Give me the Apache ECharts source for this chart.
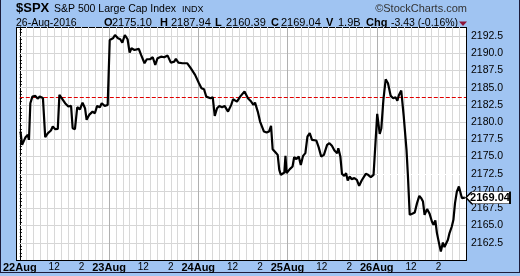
<!DOCTYPE html>
<html><head><meta charset="utf-8">
<script src="https://cdn.jsdelivr.net/npm/echarts@6/dist/echarts.min.js"></script>
<style>
html,body{margin:0;padding:0;background:#a0c4f2;}
#wrap{position:relative;width:520px;height:276px;overflow:hidden;}
#frame{position:absolute;left:0;top:-1px;width:520px;height:274px;box-sizing:border-box;border:1px solid #1c1c3c;}
#plotbg{position:absolute;left:16px;top:27px;width:451px;height:234px;box-sizing:border-box;background:#fff;border:1px solid #000;}
#c{position:absolute;left:0;top:0;width:520px;height:276px;}
</style>
</head><body><div id="wrap"><div id="frame"></div><div id="plotbg"></div><div id="c"></div></div>
<script>
// ---- data (trading minutes since 22-Aug 09:30; 390 min per session) ----
const dayLabels = ['22Aug', '23Aug', '24Aug', '25Aug', '26Aug'];
const hourLabels = { 150: '12', 270: '2' };
const hourMarks = [30, 90, 150, 210, 270, 330];          // 10:00 ... 15:00 within a session
const dayStarts = [390, 780, 1170, 1560];                // session boundaries
const yTicks = [2162.5, 2165.0, 2167.5, 2170.0, 2172.5, 2175.0, 2177.5, 2180.0, 2182.5, 2185.0, 2187.5, 2190.0, 2192.5];
const times = [
  3,10,25,35,40,46,55,68,78,87,101,111,123,136,144,155,166,173,183,198,212,224,231,241,251,263,274,285,292,303,318,328,338,350,358,371,384,
  393,407,416,429,439,448,459,471,480,488,501,520,530,545,555,569,581,592,602,617,631,646,660,675,682,693,711,732,747,766,783,
  794,805,815,833,843,852,862,872,884,895,910,924,932,939,949,963,982,997,1011,1021,1028,1040,1050,1057,1067,1079,1089,1098,1105,1118,1127,1134,1141,1148,1156,1161,1166,
  1180,1192,1199,1209,1219,1228,1238,1248,1257,1267,1277,1296,1306,1317,1329,1343,1353,1364,1375,1387,1392,1401,1408,1418,1426,1433,1442,1450,1462,1473,1483,1494,1502,1512,1522,1534,1546,
  1562,1573,1580,1589,1599,1609,1621,1632,1642,1650,1657,1667,1678,1690,1696,1704,1715,1726,1736,1746,1754,1762,1769,1780,1791,1801,1808,1816,1823,1832,1840,1849,1856,1863,1871,1878,1888,1895,1902,1910,1919,1924,1932,1945
];
const prices = [
  2178.63,2176.70,2177.82,2178.15,2177.43,2182.74,2183.70,2183.80,2183.41,2183.70,2183.51,2177.82,2178.40,2178.78,2179.36,2178.98,2179.02,2183.95,2183.47,2182.74,2182.26,2182.35,2179.12,2178.98,2182.16,2181.87,2182.83,2182.02,2180.33,2181.05,2181.53,2181.29,2182.35,2182.16,2182.74,2182.35,2182.50,
  2191.92,2192.16,2192.64,2192.16,2192.02,2191.53,2192.64,2192.02,2190.08,2190.71,2190.47,2190.62,2189.75,2188.54,2189.12,2189.12,2189.41,2188.30,2189.27,2189.50,2189.41,2189.65,2188.63,2188.78,2189.17,2188.63,2188.54,2188.54,2187.82,2186.85,2185.64,
  2184.92,2184.77,2183.70,2183.47,2183.61,2180.91,2182.02,2182.35,2182.16,2182.35,2181.53,2182.50,2183.32,2183.47,2182.98,2183.70,2184.43,2183.47,2182.98,2182.50,2182.83,2181.53,2180.08,2179.94,2178.63,2178.49,2178.63,2179.46,2176.08,2175.59,2175.25,2173.08,2172.35,2172.11,2172.69,2175.11,2172.60,
  2173.18,2173.56,2174.92,2174.63,2175.01,2173.80,2175.11,2175.50,2177.91,2178.40,2177.43,2177.33,2176.37,2175.01,2175.25,2176.70,2176.95,2176.56,2175.88,2175.50,2176.22,2175.01,2172.50,2172.21,2172.60,2171.53,2172.11,2171.73,2171.88,2171.63,2170.76,2171.53,2171.73,2172.50,2172.35,2172.02,2172.35,
  2181.20,2178.30,2179.12,2183.22,2186.22,2185.64,2183.80,2183.47,2183.61,2183.12,2183.95,2184.57,2180.80,2175.98,2172.35,2166.56,2166.70,2166.89,2168.25,2169.31,2168.98,2168.48,2166.56,2167.38,2166.70,2165.59,2165.11,2165.73,2163.90,2162.45,2161.24,2162.54,2161.88,2161.73,2162.93,2163.90,2164.86,2165.83,2168.25,2169.93,2170.66,2170.51,2168.98,2169.04
];
const refLevel = 2183.66;      // red dashed line
const prevClose = 2172.47;     // previous close (last session)
const lastPrice = 2169.04;
const quoteLetters = ['O', 'H', 'L', 'C', 'V'];
const quoteValues = ['2175.10', '2187.94', '2160.39', '2169.04', '1.9B'];
const changeText = '-3.43 (-0.16%)';

const FONT = "'Liberation Sans', Arial, sans-serif";
const pts = times.map((t, i) => [t, prices[i]]);

// split line colours: day boundary darker, hourly lines light, half-hours hidden
const splitColors = [];
for (let k = 0; k < 13; k++) splitColors.push(k === 0 ? '#b0b0b0' : (k % 2 === 1 ? '#d8d8d8' : 'rgba(255,255,255,0)'));

// grid lines also drawn as markLines through the axes' scales
const gridLines = [];
yTicks.forEach(v => gridLines.push({ yAxis: v, lineStyle: { color: '#d6d6d6', width: 1, type: 'solid', opacity: 1 } }));
for (let d = 0; d < dayLabels.length; d++) {
  hourMarks.forEach(h => gridLines.push({ xAxis: d * 390 + h, lineStyle: { color: '#d8d8d8', width: 1, type: 'solid', opacity: 1 } }));
}
dayStarts.forEach(v => gridLines.push({ xAxis: v, lineStyle: { color: '#b0b0b0', width: 1, type: 'solid', opacity: 1 } }));

const qx = [[105, 112], [161, 171], [216, 226], [272, 281], [327, 338]];
const graphics = [
  { type: 'text', x: 16, y: 8.8, style: { text: '$SPX', font: 'bold 13px ' + FONT, fill: '#000', verticalAlign: 'middle' } },
  { type: 'text', x: 54, y: 9.4, style: { text: 'S&P 500 Large Cap Index', font: '10.5px ' + FONT, fill: '#000', verticalAlign: 'middle' } },
  { type: 'text', x: 182, y: 10, style: { text: 'INDX', font: '9px ' + FONT, fill: '#000', verticalAlign: 'middle' } },
  { type: 'text', x: 467, y: 9.2, style: { text: '\u00a9StockCharts.com', font: '11px ' + FONT, fill: '#333', align: 'right', verticalAlign: 'middle' } },
  { type: 'text', x: 16, y: 23, style: { text: '26-Aug-2016', font: '10.5px ' + FONT, fill: '#000', verticalAlign: 'middle' } },
  { type: 'text', x: 366, y: 22.8, style: { text: 'Chg', font: 'bold 11px ' + FONT, fill: '#000', verticalAlign: 'middle' } },
  { type: 'text', x: 391, y: 23, style: { text: changeText, font: '10.5px ' + FONT, fill: '#000', verticalAlign: 'middle' } },
  { type: 'polygon', shape: { points: [[459, 21.5], [467, 21.5], [463, 26]] }, style: { fill: '#8c1438' } }
];
quoteLetters.forEach((l, i) => {
  graphics.push({ type: 'text', x: qx[i][0] - 1, y: 22.8, style: { text: l, font: 'bold 11px ' + FONT, fill: '#000', verticalAlign: 'middle' } });
  graphics.push({ type: 'text', x: qx[i][1], y: 23, style: { text: quoteValues[i], font: '11px ' + FONT, fill: '#000', verticalAlign: 'middle' } });
});

const chart = echarts.init(document.getElementById('c'), null, { renderer: 'canvas' });
chart.setOption({
  animation: false,
  backgroundColor: 'transparent',
  grid: { left: 16, right: 54, top: 27, bottom: 16, show: false, containLabel: false },
  xAxis: {
    type: 'value', min: 0, max: 1950, interval: 30,
    axisLine: { show: false }, axisTick: { show: false },
    axisLabel: {
      margin: 2, color: '#000', fontFamily: FONT, fontSize: 10,
      formatter: function (v) {
        const m = Math.round(v) % 390, d = Math.floor(Math.round(v) / 390);
        if (m === 0 && d < dayLabels.length) return '{d|' + dayLabels[d] + '}';
        if (hourLabels[m]) return hourLabels[m];
        return '';
      },
      rich: { d: { fontWeight: 'bold', fontSize: 11, fontFamily: FONT, color: '#000' } }
    },
    splitLine: { show: true, showMinLine: false, showMaxLine: false, lineStyle: { color: splitColors, width: 1, opacity: 1 } }
  },
  yAxis: {
    type: 'value', position: 'right', min: 2160, max: 2193.8, interval: 2.5,
    axisLine: { show: true, lineStyle: { color: '#000', width: 1 } },
    axisTick: { show: true, length: 3, lineStyle: { color: '#000' } },
    minorTick: { show: true, splitNumber: 5, length: 2, lineStyle: { color: '#000' } },
    axisLabel: { margin: 5, color: '#000', fontFamily: FONT, fontSize: 10.5, showMinLabel: false, showMaxLabel: false, formatter: v => v.toFixed(1) },
    splitLine: { show: true, showMinLine: false, showMaxLine: false, lineStyle: { color: '#d6d6d6', width: 1, opacity: 1 } }
  },
  graphic: graphics,
  series: [
    {
      type: 'line', data: pts, showSymbol: false, symbol: 'none', silent: true, z: 1,
      lineStyle: { color: 'rgba(0,0,0,0)', width: 1 },
      markLine: {
        silent: true, symbol: 'none', label: { show: false }, animation: false,
        lineStyle: { color: '#d6d6d6', width: 1, type: 'solid', opacity: 1 },
        data: gridLines
      }
    },
    {
      type: 'line', data: pts, showSymbol: false, symbol: 'none',
      lineStyle: { color: '#000', width: 2.2 }, z: 5,
      markLine: {
        silent: true, symbol: 'none', label: { show: false },
        data: [
          [{ coord: [0, refLevel], lineStyle: { color: '#e00000', type: [4, 2], width: 1 } }, { coord: [1950, refLevel] }],
          [{ coord: [1560, prevClose], lineStyle: { color: '#ffffff', type: 'solid', width: 1 } }, { coord: [1950, prevClose] }]
        ]
      },
      markPoint: {
        silent: true,
        symbol: 'path://M0,6 L6,0 L46,0 L46,12 L6,12 Z',
        symbolSize: [44, 12], symbolKeepAspect: false, symbolOffset: [22, 0],
        itemStyle: { color: '#fff', borderColor: '#000', borderWidth: 1 },
        label: { show: true, position: 'inside', offset: [2, 0], color: '#000', fontWeight: 'bold', fontSize: 11, fontFamily: FONT, formatter: lastPrice.toFixed(2) },
        data: [{ coord: [1950, lastPrice] }]
      }
    }
  ]
});
</script>
</body></html>
